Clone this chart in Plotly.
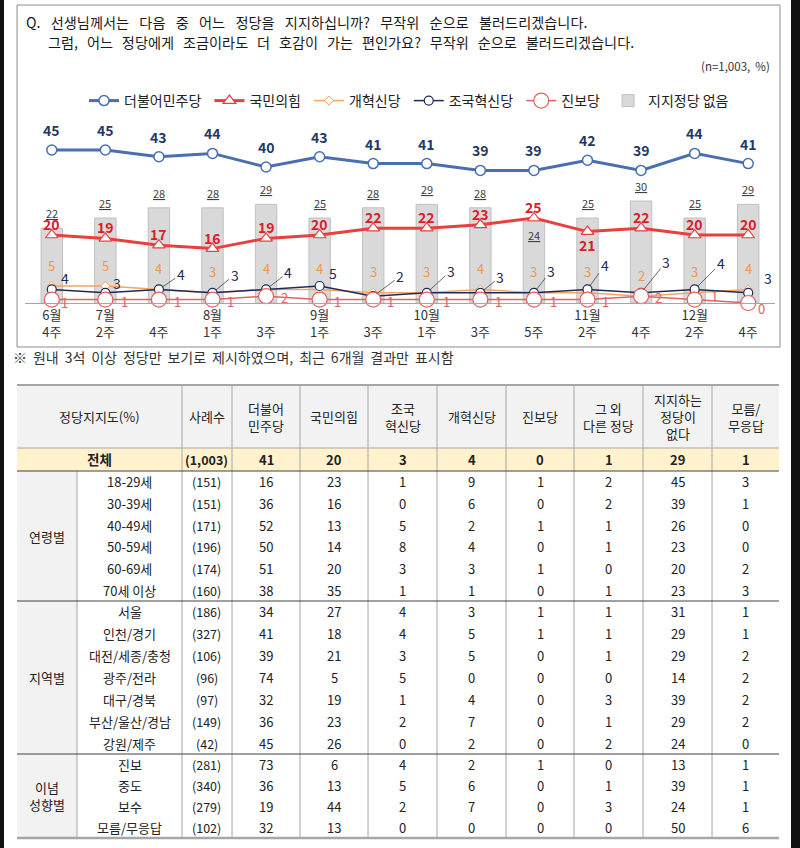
import plotly.graph_objects as go

W, H = 800, 848
def fx(px): return px / W
def fy(py): return 1 - py / H

FONT = "Noto Sans CJK KR"

# ---------------- trend chart data ----------------
months = ["6월", "7월", "", "8월", "", "9월", "", "10월", "", "", "11월", "", "12월", ""]
weeks = ["4주", "2주", "4주", "1주", "3주", "1주", "3주", "1주", "3주", "5주", "2주", "4주", "2주", "4주"]
dem = [45, 45, 43, 44, 40, 43, 41, 41, 39, 39, 42, 39, 44, 41]          # 더불어민주당
ppp = [20, 19, 17, 16, 19, 20, 22, 22, 23, 25, 21, 22, 20, 20]          # 국민의힘
reform = [5, 5, 4, 3, 4, 4, 3, 3, 4, 3, 3, 2, 3, 4]                     # 개혁신당
cho = [4, 3, 4, 3, 4, 5, 2, 3, 3, 3, 4, 3, 4, 3]                        # 조국혁신당
prog = [1, 1, 1, 1, 2, 1, 1, 1, 1, 1, 1, 2, 1, 0]                       # 진보당
no_party = [22, 25, 28, 28, 29, 25, 28, 29, 28, 24, 25, 30, 25, 29]     # 지지정당 없음

# ---------------- table data ----------------
group_names = ["연령별", "지역별", "이념<br>성향별"]
group_sizes = [6, 7, 4]
row_labels = ["전체", "18-29세", "30-39세", "40-49세", "50-59세", "60-69세", "70세 이상",
              "서울", "인천/경기", "대전/세종/충청", "광주/전라", "대구/경북", "부산/울산/경남", "강원/제주",
              "진보", "중도", "보수", "모름/무응답"]
row_n = ["(1,003)", "(151)", "(151)", "(171)", "(196)", "(174)", "(160)",
         "(186)", "(327)", "(106)", "(96)", "(97)", "(149)", "(42)",
         "(281)", "(340)", "(279)", "(102)"]
col_headers = ["더불어<br>민주당", "국민의힘", "조국<br>혁신당", "개혁신당", "진보당",
               "그 외<br>다른 정당", "지지하는<br>정당이<br>없다", "모름/<br>무응답"]
t_dem = [41, 16, 36, 52, 50, 51, 38, 34, 41, 39, 74, 32, 36, 45, 73, 36, 19, 32]
t_ppp = [20, 23, 16, 13, 14, 20, 35, 27, 18, 21, 5, 19, 23, 26, 6, 13, 44, 13]
t_cho = [3, 1, 0, 5, 8, 3, 1, 4, 4, 3, 5, 1, 2, 0, 4, 5, 2, 0]
t_reform = [4, 9, 6, 2, 4, 3, 1, 3, 5, 5, 0, 4, 7, 2, 2, 6, 7, 0]
t_prog = [0, 1, 0, 1, 0, 1, 0, 1, 1, 0, 0, 0, 0, 0, 1, 0, 0, 0]
t_other = [1, 2, 2, 1, 1, 0, 1, 1, 1, 1, 0, 3, 1, 2, 0, 1, 3, 0]
t_none = [29, 45, 39, 26, 23, 20, 23, 31, 29, 29, 14, 39, 29, 24, 13, 39, 24, 50]
t_dk = [1, 3, 1, 0, 0, 2, 3, 1, 1, 2, 2, 2, 2, 0, 1, 1, 1, 6]
table_cols = [t_dem, t_ppp, t_cho, t_reform, t_prog, t_other, t_none, t_dk]

question_1 = "Q. 선생님께서는 다음 중 어느 정당을 지지하십니까? 무작위 순으로 불러드리겠습니다."
question_2 = "그럼, 어느 정당에게 조금이라도 더 호감이 가는 편인가요? 무작위 순으로 불러드리겠습니다."
note_text = "※ 원내 3석 이상 정당만 보기로 제시하였으며, 최근 6개월 결과만 표시함"

# ---------------- styles ----------------
C_DEM, C_DEM_TXT = "#4a6fb0", "#1f3864"
C_PPP, C_PPP_TXT = "#e8403f", "#d9202a"
C_REF = "#f4a460"
C_CHO = "#1f2a55"
C_PROG = "#e06262"
C_BAR, C_BAR_LINE = "#d9d9d9", "#c0c0c0"

x_idx = list(range(len(weeks)))
NBSP = "\u00a0"
ticktext = [(m if m else NBSP) + "<br>" + w for m, w in zip(months, weeks)]

def wide(s, extra):
    return s.replace(" ", " " + extra)

fig = go.Figure()
fig.add_trace(go.Bar(x=x_idx, y=no_party, width=0.4, name="지지정당 없음",
                     marker=dict(color=C_BAR, line=dict(color=C_BAR_LINE, width=1)),
                     legendrank=6))
fig.add_trace(go.Scatter(x=x_idx, y=reform, mode="lines+markers", name="개혁신당" + NBSP,
                         line=dict(color=C_REF, width=1.5),
                         marker=dict(symbol="diamond", size=7, color="white", line=dict(color=C_REF, width=1)),
                         legendrank=3, cliponaxis=False))
fig.add_trace(go.Scatter(x=x_idx, y=cho, mode="lines+markers", name="조국혁신당" + NBSP,
                         line=dict(color=C_CHO, width=1.5),
                         marker=dict(symbol="circle", size=9, color="white", line=dict(color=C_CHO, width=1.2)),
                         legendrank=4, cliponaxis=False))
fig.add_trace(go.Scatter(x=x_idx, y=prog, mode="lines+markers", name="진보당" + NBSP,
                         line=dict(color=C_PROG, width=1.5),
                         marker=dict(symbol="circle", size=15, color="white", line=dict(color=C_PROG, width=1.2)),
                         legendrank=5, cliponaxis=False))
fig.add_trace(go.Scatter(x=x_idx, y=ppp, mode="lines+markers", name="국민의힘" + NBSP,
                         line=dict(color=C_PPP, width=3),
                         marker=dict(symbol="triangle-up", size=11, color="white", line=dict(color=C_PPP, width=1.2)),
                         legendrank=2, cliponaxis=False))
fig.add_trace(go.Scatter(x=x_idx, y=dem, mode="lines+markers", name="더불어민주당" + NBSP,
                         line=dict(color=C_DEM, width=3),
                         marker=dict(symbol="circle", size=10, color="white", line=dict(color=C_DEM, width=1.5)),
                         legendrank=1, cliponaxis=False))

ann = []
def A(x, y, text, size=13, color="#222", xref="paper", yref="paper", **kw):
    d = dict(x=x, y=y, xref=xref, yref=yref, text=text, showarrow=False,
             xanchor="center", yanchor="middle",
             font=dict(family=FONT, size=size, color=color))
    d.update(kw)
    ann.append(d)

# value labels on the chart
ppp_shift = [11] * len(ppp)
ppp_shift[10] = -13
bar_shift = [15] * len(no_party)
bar_shift[9] = -14
cho_dx = [13, 12, 19, 19, 19, 13, 24, 21, 17, 14, 14, 22, 23, 20]
cho_dy = [-11, -10, -13, -16, -15, -13, -18, -20, -14, -20, -22, -29, -24, -15]
cho_leader = [0, 0, 1, 1, 1, 0, 1, 1, 1, 1, 1, 1, 1, 0]
prog_dx = [13, 19, 19, 18, 18, 18, 17, 20, 18, 20, 18, 17, 20, 13]
prog_dy = [3, 2, 2, 2, 1, 2, 2, 2, 2, 2, 2, 1, -4, 5]

for i in x_idx:
    A(i, no_party[i], "<u>%d</u>" % no_party[i], size=11, color="#404040", xref="x", yref="y", yshift=bar_shift[i])
    A(i, dem[i], "<b>%d</b>" % dem[i], size=14, color=C_DEM_TXT, xref="x", yref="y", yshift=20)
    A(i, ppp[i], "<b>%d</b>" % ppp[i], size=14, color=C_PPP_TXT, xref="x", yref="y", yshift=ppp_shift[i])
    A(i, reform[i], "%d" % reform[i], size=13, color="#f0984a", xref="x", yref="y", yshift=21)
    A(i, prog[i], "%d" % prog[i], size=13, color=C_PROG, xref="x", yref="y",
      xshift=prog_dx[i], yshift=-prog_dy[i])
    if cho_leader[i]:
        ann.append(dict(x=i, y=cho[i], xref="x", yref="y", text="%d" % cho[i], showarrow=True,
                        ax=cho_dx[i] + 3, ay=cho_dy[i] - 2, arrowhead=0, arrowwidth=0.8,
                        arrowcolor="#404040", standoff=4,
                        font=dict(family=FONT, size=14, color=C_CHO)))
    else:
        A(i, cho[i], "%d" % cho[i], size=14, color=C_CHO, xref="x", yref="y",
          xshift=cho_dx[i], yshift=-cho_dy[i])

# header texts
A(fx(24), fy(22), wide(question_1, "\u2002"), size=14.2, color="#1a1a1a", xanchor="left")
A(fx(46), fy(42), wide(question_2, "\u2009\u2009"), size=14.2, color="#1a1a1a", xanchor="left")
A(fx(772), fy(66), "(n=1,003,  %)", size=11.5, color="#333", xanchor="right")
A(fx(11), fy(357), wide(note_text, "\u2009"), size=14, color="#333", xanchor="left")

# ---------------- table layout ----------------
col_edges = [17, 77, 182, 232, 300, 368, 437, 506, 574, 643, 712, 779]
T_TOP, T_HEAD, T_TOTAL = 385, 448, 471
group_edges = [471, 601, 754, 838]

shapes = []
def rect(x0, y0, x1, y1, fill, line=None, lw=0):
    shapes.append(dict(type="rect", xref="paper", yref="paper", x0=fx(x0), x1=fx(x1), y0=fy(y0), y1=fy(y1),
                       fillcolor=fill, line=dict(color=line or fill, width=lw), layer="below"))
def hline(y, x0, x1, color, w):
    shapes.append(dict(type="line", xref="paper", yref="paper", x0=fx(x0), x1=fx(x1), y0=fy(y), y1=fy(y),
                       line=dict(color=color, width=w)))
def vline(x, y0, y1, color, w):
    shapes.append(dict(type="line", xref="paper", yref="paper", x0=fx(x), x1=fx(x), y0=fy(y0), y1=fy(y1),
                       line=dict(color=color, width=w)))

# page background
rect(4, 0, 791, 848, "white")
# chart frame
shapes.append(dict(type="rect", xref="paper", yref="paper", x0=fx(17), x1=fx(780), y0=fy(5), y1=fy(347),
                   line=dict(color="#8c8c8c", width=1), fillcolor="rgba(0,0,0,0)", layer="below"))
# table backgrounds
rect(17, T_TOP, 779, T_HEAD, "#f2f2f2")
rect(17, T_HEAD, 779, T_TOTAL, "#fff2cc")
rect(17, T_TOTAL, 77, group_edges[-1], "#f2f2f2")

# vertical lines
vline(77, T_TOTAL, group_edges[-1], "#a6a6a6", 1)
for xe in col_edges[2:-1]:
    vline(xe, T_TOP, group_edges[-1], "#a6a6a6", 1)
# horizontal lines
hline(T_TOP, 17, 779, "#a6a6a6", 2)
hline(T_HEAD, 17, 779, "#a6a6a6", 1)
hline(T_TOTAL, 17, 779, "#404040", 1)
for ge in group_edges[1:-1]:
    hline(ge, 17, 779, "#404040", 1)
hline(group_edges[-1], 17, 779, "#a6a6a6", 2.5)

# header cells
head_y = (T_TOP + T_HEAD) / 2
A(fx((17 + 182) / 2), fy(head_y), "정당지지도(%)", size=13)
A(fx((182 + 232) / 2), fy(head_y), "사례수", size=13)
for k, h in enumerate(col_headers):
    cx = (col_edges[k + 3] + col_edges[k + 4]) / 2
    A(fx(cx), fy(head_y), h, size=13)

# total row
ty = (T_HEAD + T_TOTAL) / 2
A(fx((17 + 182) / 2), fy(ty), "<b>" + row_labels[0] + "</b>", size=13.5)
A(fx((182 + 232) / 2), fy(ty), "<b>" + row_n[0] + "</b>", size=12.5)
for k, col in enumerate(table_cols):
    cx = (col_edges[k + 3] + col_edges[k + 4]) / 2
    A(fx(cx), fy(ty), "<b>%d</b>" % col[0], size=13)

# body rows
r = 1
for g, (gname, gsize) in enumerate(zip(group_names, group_sizes)):
    y0, y1 = group_edges[g], group_edges[g + 1]
    A(fx(47), fy((y0 + y1) / 2), gname, size=13)
    pitch = (y1 - y0) / gsize
    for j in range(gsize):
        cy = y0 + pitch * (j + 0.5)
        A(fx((77 + 182) / 2), fy(cy), row_labels[r], size=13)
        A(fx((182 + 232) / 2), fy(cy), row_n[r], size=12.5)
        for k, col in enumerate(table_cols):
            cx = (col_edges[k + 3] + col_edges[k + 4]) / 2
            A(fx(cx), fy(cy), "%d" % col[r], size=13)
        r += 1

PX_PER_UNIT = 3.4
Y_MAX = 52
fig.update_layout(
    width=W, height=H, margin=dict(l=0, r=0, t=0, b=0),
    paper_bgcolor="#111111", plot_bgcolor="rgba(0,0,0,0)",
    font=dict(family=FONT, color="#222"),
    showlegend=True, barmode="overlay",
    legend=dict(orientation="h", x=fx(409), xanchor="center", y=fy(101), yanchor="middle",
                font=dict(family=FONT, size=14, color="#222"), bgcolor="rgba(0,0,0,0)",
                itemclick=False, tracegroupgap=0),
    xaxis=dict(domain=[fx(25), fx(775)], range=[-0.5, len(weeks) - 0.5],
               tickvals=x_idx, ticktext=ticktext, ticks="", showgrid=False, zeroline=False,
               showline=True, linecolor="#a6a6a6", linewidth=1,
               tickfont=dict(family=FONT, size=13, color="#333"), fixedrange=True),
    yaxis=dict(domain=[fy(303), fy(303 - Y_MAX * PX_PER_UNIT)], range=[0, Y_MAX],
               visible=False, fixedrange=True),
    shapes=shapes, annotations=ann,
)

fig.write_html("out.html", config={"displayModeBar": False},
               post_script="document.body.style.margin='0';document.body.style.overflow='hidden';")
